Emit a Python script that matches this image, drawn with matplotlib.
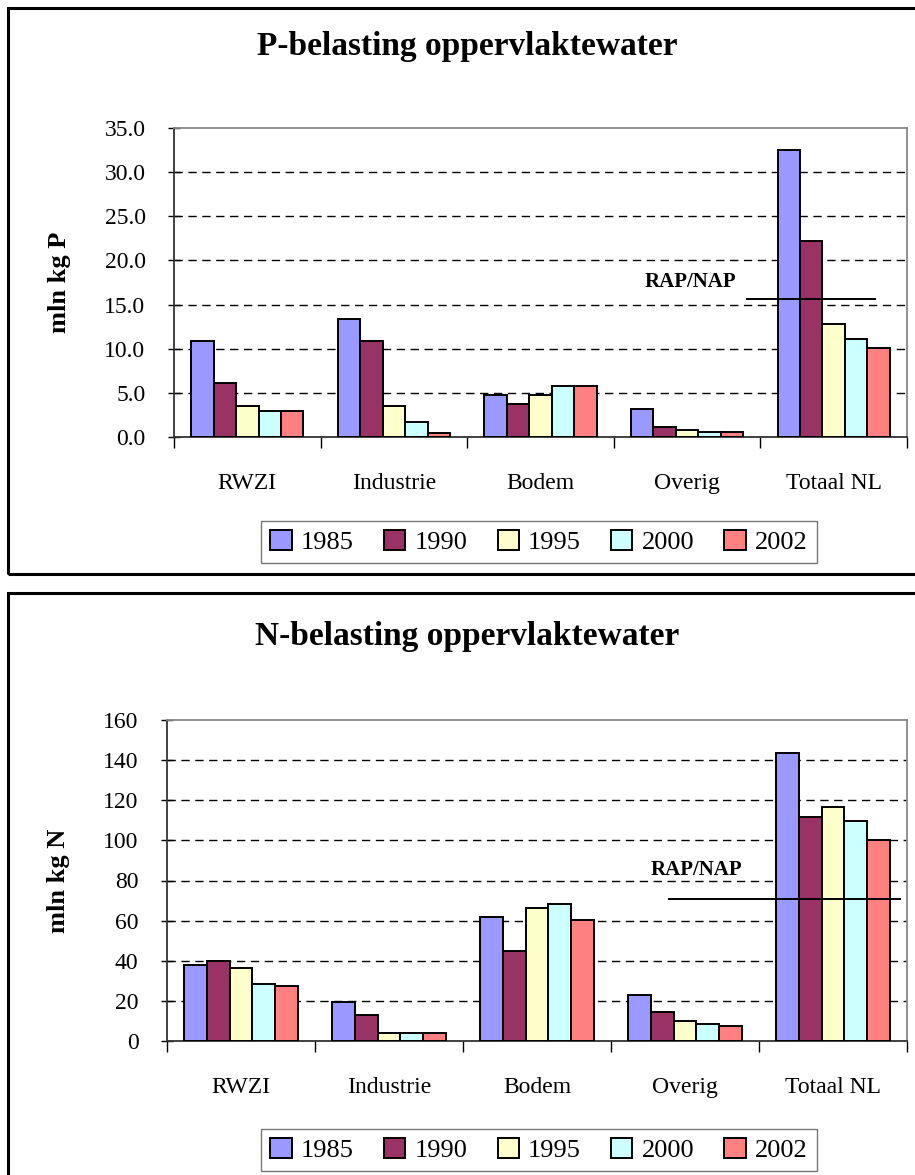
import matplotlib.pyplot as plt
from matplotlib.patches import Rectangle
import numpy as np

plt.rcParams['font.family'] = ['Liberation Serif', 'DejaVu Serif']

categories = ['RWZI', 'Industrie', 'Bodem', 'Overig', 'Totaal NL']
years = ['1985', '1990', '1995', '2000', '2002']
colors = ['#9999FF', '#993366', '#FFFFCC', '#CCFFFF', '#FF8080']

# P-load per source (mln kg P), one list per year
p_1985 = [10.9, 13.4, 4.8, 3.2, 32.5]
p_1990 = [6.1, 10.9, 3.7, 1.1, 22.2]
p_1995 = [3.5, 3.5, 4.8, 0.8, 12.8]
p_2000 = [2.9, 1.7, 5.8, 0.6, 11.1]
p_2002 = [2.9, 0.5, 5.8, 0.6, 10.1]
p_target = 15.6

# N-load per source (mln kg N)
n_1985 = [38, 19.6, 62, 23, 143.5]
n_1990 = [40, 13, 45, 14.5, 111.5]
n_1995 = [36.3, 4.2, 66.3, 10.1, 116.7]
n_2000 = [28.4, 4.2, 68.3, 8.5, 109.9]
n_2002 = [27.6, 4.2, 60.3, 7.7, 100.2]
n_target = 71

W, H = 915, 1175
fig = plt.figure(figsize=(W / 100, H / 100), dpi=100)


def px_axes(left, top, right, bottom):
    return fig.add_axes([left / W, 1 - bottom / H, (right - left) / W, (bottom - top) / H])


def draw_panel(ax, series, ymax, ystep, fmt, ylabel, target, line_x, text_xy):
    x = np.arange(len(categories))
    width = 0.153
    for i, (vals, c, yr) in enumerate(zip(series, colors, years)):
        ax.bar(x + (i - 2) * width, vals, width, color=c, edgecolor='black',
               linewidth=1.4, label=yr, zorder=3)
    ax.set_xlim(-0.5, len(categories) - 0.5)
    ax.set_ylim(0, ymax)
    yt = np.arange(0, ymax + ystep / 2, ystep)
    ax.set_yticks(yt)
    ax.set_yticklabels([fmt.format(v) for v in yt], fontsize=17)
    for v in yt[1:-1]:
        ax.axhline(v, color='black', lw=1.0, ls=(0, (6, 4)), zorder=1)
    ax.set_xticks(np.arange(-0.5, len(categories)), minor=False)
    ax.set_xticklabels([])
    ax.set_xticks(x, minor=True)
    ax.set_xticklabels(categories, minor=True, fontsize=17)
    ax.tick_params(axis='x', which='minor', length=0, pad=26)
    ax.tick_params(axis='x', which='major', length=8, width=1, direction='out')
    ax.tick_params(axis='y', length=9, width=1, direction='inout', pad=16)
    for s in ['top', 'right']:
        ax.spines[s].set_color('#888888')
        ax.spines[s].set_linewidth(1.3)
    ax.spines['left'].set_color('#333333')
    ax.spines['bottom'].set_color('#333333')
    ax.spines['left'].set_linewidth(1.3)
    ax.spines['bottom'].set_linewidth(1.3)
    ax.set_ylabel(ylabel, fontsize=19, fontweight='bold', labelpad=24)
    ax.plot(line_x, [target, target], color='black', lw=1.4, zorder=4)
    ax.text(text_xy[0], text_xy[1], 'RAP/NAP', fontsize=15, fontweight='bold',
            ha='center', va='center', zorder=5)


ax1 = px_axes(174, 128, 907, 437)
draw_panel(ax1, [p_1985, p_1990, p_1995, p_2000, p_2002], 35, 5, '{:.1f}',
           'mln kg P', p_target, [3.41, 4.28], (3.02, 17.6))

ax2 = px_axes(167, 720, 907, 1041)
draw_panel(ax2, [n_1985, n_1990, n_1995, n_2000, n_2002], 160, 20, '{:.0f}',
           'mln kg N', n_target, [2.89, 4.45], (3.08, 85))

fig.text(467 / W, 1 - 47 / H, 'P-belasting oppervlaktewater', fontsize=24,
         fontweight='bold', ha='center', va='center')
fig.text(467 / W, 1 - 637 / H, 'N-belasting oppervlaktewater', fontsize=24,
         fontweight='bold', ha='center', va='center')

for ax, yc in [(ax1, 542), (ax2, 1150)]:
    leg = ax.legend(loc='center', bbox_to_anchor=(539 / W, 1 - yc / H),
                    bbox_transform=fig.transFigure, ncol=5, fontsize=19,
                    frameon=True, fancybox=False, edgecolor='#555555',
                    handlelength=0.8, handleheight=0.8, handletextpad=0.35,
                    columnspacing=1.15, borderpad=0.35, borderaxespad=0)
    leg.get_frame().set_linewidth(1.0)

# outer frames around each chart
fig.patches.append(Rectangle((8 / W, 1 - 574 / H), 1.0, 566 / H, fill=False,
                             edgecolor='black', lw=2.2, transform=fig.transFigure))
fig.patches.append(Rectangle((8 / W, -0.05), 1.0, (1175 - 593) / H + 0.05, fill=False,
                             edgecolor='black', lw=2.2, transform=fig.transFigure))

fig.savefig('out.png', dpi=100)
